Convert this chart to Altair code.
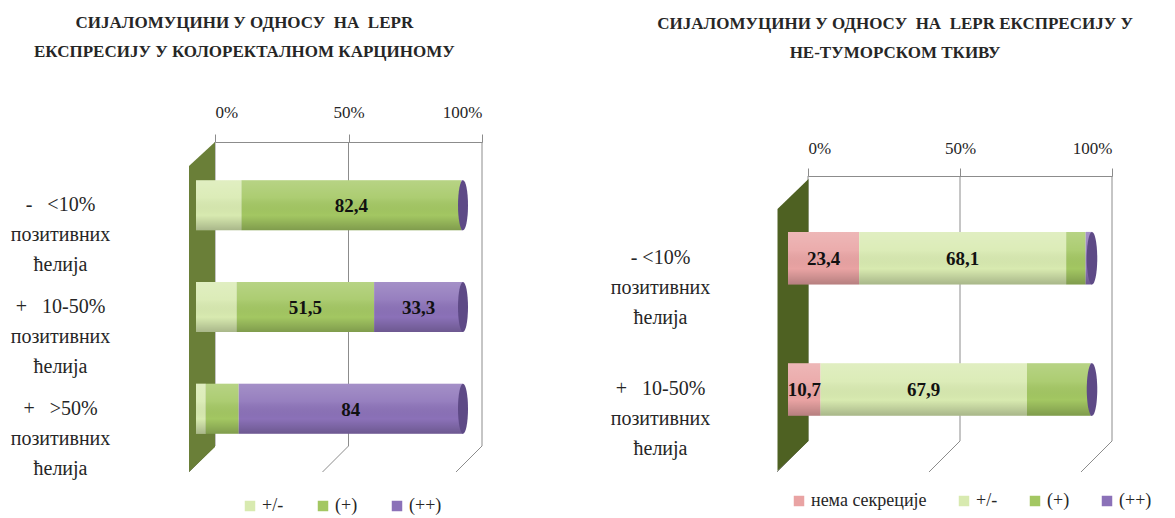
import altair as alt
import pandas as pd

# ---------------- data ----------------
NB = "\u00a0"
tick_values = [0, 50, 100]

left_title = [f"СИЈАЛОМУЦИНИ У ОДНОСУ {NB}НА {NB}LEPR", "ЕКСПРЕСИЈУ У КОЛОРЕКТАЛНОМ КАРЦИНОМУ"]
left_categories = [f"-{NB}{NB}{NB}<10%|позитивних|ћелија",
                   f"+{NB}{NB}{NB}10-50%|позитивних|ћелија",
                   f"+{NB}{NB}{NB}>50%|позитивних|ћелија"]
left_series = ["+/-", "(+)", "(++)"]
left_pm = [17.0, 15.2, 3.7]
left_plus = [82.4, 51.5, 12.3]
left_pp = [0.6, 33.3, 84.0]
left_pm_labels = ["", "", ""]
left_plus_labels = ["82,4", "51,5", ""]
left_pp_labels = ["", "33,3", "84"]

right_title = [f"СИЈАЛОМУЦИНИ У ОДНОСУ {NB}НА {NB}LEPR ЕКСПРЕСИЈУ У", "НЕ-ТУМОРСКОМ ТКИВУ"]
right_categories = ["- <10%|позитивних|ћелија", f"+{NB}{NB}{NB}10-50%|позитивних|ћелија"]
right_series = ["нема секреције", "+/-", "(+)", "(++)"]
right_none = [23.4, 10.7]
right_pm = [68.1, 67.9]
right_plus = [6.4, 20.9]
right_pp = [2.1, 0.5]
right_none_labels = ["23,4", "10,7"]
right_pm_labels = ["68,1", "67,9"]
right_plus_labels = ["", ""]
right_pp_labels = ["", ""]

series_colors = {
    "нема секреције": "#e9a3a3",
    "+/-": "#d8eab0",
    "(+)": "#a3c762",
    "(++)": "#8b71b8",
}

FONT = "Liberation Serif, Times New Roman, serif"
GRID = "#8c8c8c"
CAP = "#5e4a86"


def ellipse_path(rx):
    k = 0.5523
    a = rx * k
    return (f"M0,-1 C{a:.4f},-1 {rx},-{k} {rx},0 C{rx},{k} {a:.4f},1 0,1 "
            f"C-{a:.4f},1 -{rx},{k} -{rx},0 C-{rx},-{k} -{a:.4f},-1 0,-1 Z")


def panel(cats, series, vals, labs, width, height, pad_inner, pad_outer, band_align, bar_off,
          depth, rule_top, axis_offset, wall_color, wall_path, wall_off, cap_size,
          y_label_pad, x_label_pad, title_lines, title_offset, title_dx,
          legend_x, legend_y, legend_colpad):
    rows = []
    for i, s in enumerate(series):
        for j, c in enumerate(cats):
            rows.append({"cat": c, "series": s, "order": i, "value": vals[i][j], "label": labs[i][j]})
    df = pd.DataFrame(rows)
    ticks_df = pd.DataFrame({"t": tick_values})

    x_scale = alt.Scale(domain=[0, 100], nice=False, zero=True)
    x_axis = alt.Axis(orient="top", values=tick_values, labelExpr="datum.value + '%'", title=None,
                      grid=False, domainColor=GRID, tickColor=GRID, tickSize=8,
                      labelFont=FONT, labelFontSize=17, labelColor="#262626",
                      labelPadding=x_label_pad, offset=axis_offset)
    y_axis = alt.Axis(title=None, domain=False, ticks=False, labelAlign="center",
                      labelPadding=y_label_pad, labelExpr="split(datum.value, '|')",
                      labelLineHeight=30, labelFont=FONT, labelFontSize=20,
                      labelColor="#262626", labelBaseline="middle")
    y_enc = alt.Y("cat:N", sort=cats, axis=y_axis,
                  scale=alt.Scale(paddingInner=pad_inner, paddingOuter=pad_outer, align=band_align))

    base = alt.Chart(df)
    stacked = base.transform_stack(stack="value", groupby=["cat"], as_=["x0", "x1"],
                                   sort=[alt.SortField("order", order="ascending")])

    vertical = alt.Chart(ticks_df).mark_rule(color=GRID, strokeWidth=1).encode(
        x=alt.X("t:Q", scale=x_scale, axis=x_axis),
        y=alt.value(rule_top), y2=alt.value(height - depth))
    diag = alt.Chart(ticks_df).mark_rule(color=GRID, strokeWidth=1, x2Offset=-depth).encode(
        x=alt.X("t:Q", scale=x_scale, axis=x_axis), x2="t:Q",
        y=alt.value(height - depth), y2=alt.value(height))

    wall = alt.Chart(ticks_df).transform_filter("datum.t == 0").mark_point(
        shape=wall_path, size=height * height, filled=True, opacity=1, color=wall_color,
        strokeWidth=0, xOffset=wall_off).encode(x=alt.X("t:Q", scale=x_scale, axis=x_axis))

    bars = stacked.mark_bar(xOffset=bar_off, x2Offset=bar_off).encode(
        x=alt.X("x0:Q", scale=x_scale, axis=x_axis), x2="x1:Q", y=y_enc,
        color=alt.Color("series:N",
                        scale=alt.Scale(domain=series, range=[series_colors[s] for s in series]),
                        legend=alt.Legend(title=None, orient="none", legendX=legend_x, legendY=legend_y,
                                          direction="horizontal", symbolType="square", symbolSize=110,
                                          symbolStrokeWidth=0, labelFont=FONT, labelFontSize=18,
                                          labelColor="#262626", columnPadding=legend_colpad,
                                          labelOffset=3)))

    shade = alt.Gradient(gradient="linear", x1=0, x2=0, y1=0, y2=1, stops=[
        alt.GradientStop(color="rgba(255,255,255,0.22)", offset=0),
        alt.GradientStop(color="rgba(255,255,255,0.10)", offset=0.35),
        alt.GradientStop(color="rgba(0,0,0,0)", offset=0.7),
        alt.GradientStop(color="rgba(0,0,0,0.22)", offset=1),
    ])
    totals = base.transform_aggregate(total="sum(value)", groupby=["cat"])
    overlay = totals.mark_bar(color=shade, xOffset=bar_off, x2Offset=bar_off).encode(
        x=alt.X("total:Q", scale=x_scale, axis=x_axis), y=y_enc)
    caps = totals.mark_point(shape=ellipse_path(0.2), size=cap_size, filled=True, opacity=1,
                             color=CAP, strokeWidth=0, xOffset=bar_off).encode(
        x=alt.X("total:Q", scale=x_scale, axis=x_axis), y=y_enc)

    text = stacked.transform_calculate(mid="(datum.x0 + datum.x1) / 2").transform_filter(
        "datum.label != ''").mark_text(font=FONT, fontSize=19, fontWeight="bold", color="#111111",
                                       xOffset=bar_off, dy=1).encode(
        x=alt.X("mid:Q", scale=x_scale, axis=x_axis), y=y_enc, text="label:N")

    return alt.layer(vertical, diag, wall, bars, overlay, caps, text).properties(
        width=width, height=height,
        title=alt.TitleParams(text=title_lines, font=FONT, fontSize=17, fontWeight="bold",
                              color="#262626", anchor="middle", frame="bounds",
                              offset=title_offset, dx=title_dx, lineHeight=29))


left_wall = "M-0.0788,-0.855 L0.0788,-1 L0.0788,0.848 L-0.0788,1 Z"
right_wall = "M-0.0939,-0.594 L0.0939,-0.776 L0.0939,0.812 L-0.0939,0.994 Z"

left = panel(left_categories, left_series,
             [left_pm, left_plus, left_pp],
             [left_pm_labels, left_plus_labels, left_pp_labels],
             width=267, height=330, pad_inner=0.507, pad_outer=0.375, band_align=0.5, bar_off=-19,
             depth=26, rule_top=0, axis_offset=0,
             wall_color="#6a7f38", wall_path=left_wall, wall_off=-13,
             cap_size=2500, y_label_pad=155, x_label_pad=13,
             title_lines=left_title, title_offset=42, title_dx=-2,
             legend_x=26, legend_y=355, legend_colpad=30)

right = panel(right_categories, right_series,
              [right_none, right_pm, right_plus, right_pp],
              [right_none_labels, right_pm_labels, right_plus_labels, right_pp_labels],
              width=304, height=330, pad_inner=0.6, pad_outer=0.557, band_align=0.615, bar_off=-20,
              depth=31, rule_top=34, axis_offset=-34,
              wall_color="#4e6122", wall_path=right_wall, wall_off=-15,
              cap_size=2756, y_label_pad=148, x_label_pad=11,
              title_lines=right_title, title_offset=77, title_dx=14,
              legend_x=-18, legend_y=350, legend_colpad=28)

chart = alt.concat(left, right, columns=2, align="none", spacing=127).resolve_scale(
    x="independent", y="independent", color="independent"
).properties(
    padding={"left": 2, "top": 6, "right": 0, "bottom": 0}
).configure_view(stroke=None)

chart.save("out.html", embed_options={"renderer": "svg", "actions": False})
